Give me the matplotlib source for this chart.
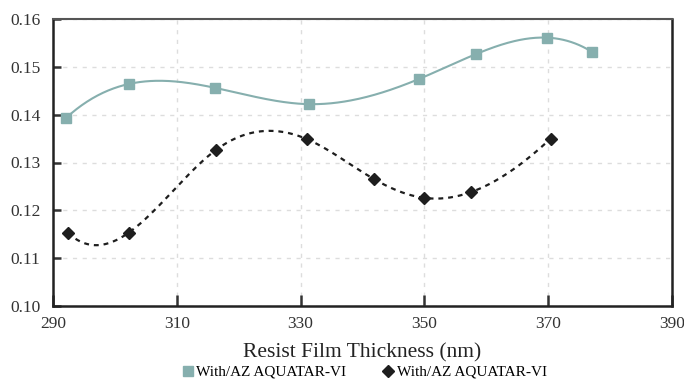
import numpy as np
import matplotlib
matplotlib.use("Agg")
import matplotlib.pyplot as plt
from matplotlib.lines import Line2D

# Resist film thickness (nm) and measured values
thick_with = [292.1, 302.2, 316.2, 331.3, 349.2, 358.4, 369.8, 377.1]
vals_with = [0.1393, 0.1464, 0.1456, 0.1422, 0.1475, 0.1527, 0.1561, 0.1531]

thick_other = [292.4, 302.2, 316.3, 331.0, 341.9, 350.0, 357.5, 370.4]
vals_other = [0.1153, 0.1153, 0.1326, 0.1349, 0.1265, 0.1226, 0.1238, 0.1350]

label_a = "With/AZ AQUATAR-VI"
label_b = "With/AZ AQUATAR-VI"

x_ticks = [290, 310, 330, 350, 370, 390]
y_ticks = [0.10, 0.11, 0.12, 0.13, 0.14, 0.15, 0.16]

TEAL = "#86AFAE"
DARK = "#1E1E1E"


def smooth_curve(x, y, n=400):
    """Cubic spline with not-a-knot end conditions."""
    x = np.asarray(x, float)
    y = np.asarray(y, float)
    k = len(x)
    h = np.diff(x)
    A = np.zeros((k, k))
    r = np.zeros(k)
    A[0, 0], A[0, 1], A[0, 2] = h[1], -(h[0] + h[1]), h[0]
    A[-1, -3], A[-1, -2], A[-1, -1] = h[-1], -(h[-2] + h[-1]), h[-2]
    for i in range(1, k - 1):
        A[i, i - 1] = h[i - 1]
        A[i, i] = 2 * (h[i - 1] + h[i])
        A[i, i + 1] = h[i]
        r[i] = 6 * ((y[i + 1] - y[i]) / h[i] - (y[i] - y[i - 1]) / h[i - 1])
    m = np.linalg.solve(A, r)
    xs = np.linspace(x[0], x[-1], n)
    idx = np.clip(np.searchsorted(x, xs) - 1, 0, k - 2)
    x0, x1 = x[idx], x[idx + 1]
    hh = x1 - x0
    a = (x1 - xs) / hh
    b = (xs - x0) / hh
    ys = (a * y[idx] + b * y[idx + 1]
          + ((a ** 3 - a) * m[idx] + (b ** 3 - b) * m[idx + 1]) * hh ** 2 / 6)
    return xs, ys


plt.rcParams["font.family"] = ["Liberation Serif", "DejaVu Serif"]

fig = plt.figure(figsize=(6.84, 3.80), dpi=100)
ax = fig.add_axes([53 / 684, 1 - 306 / 380, 619 / 684, 287 / 380])

xs, ys = smooth_curve(thick_with, vals_with)
ax.plot(xs, ys, color=TEAL, lw=1.5, zorder=3)
ax.plot(thick_with, vals_with, ls="none", marker="s", ms=7.5,
        color=TEAL, zorder=4)

xs, ys = smooth_curve(thick_other, vals_other)
ax.plot(xs, ys, color=DARK, lw=1.6, ls=(0, (2.2, 2.2)), zorder=3)
ax.plot(thick_other, vals_other, ls="none", marker="D", ms=6.5,
        color=DARK, zorder=4)

ax.set_xlim(290, 390)
ax.set_ylim(0.10, 0.16)
ax.set_xticks(x_ticks)
ax.set_yticks(y_ticks)
ax.set_xticklabels([str(t) for t in x_ticks])
ax.set_yticklabels([f"{t:.2f}" for t in y_ticks])
ax.tick_params(axis="both", direction="in", width=1.8,
               labelsize=12.5, colors="#333333", labelcolor="#333333")
ax.tick_params(axis="x", pad=7, length=8)
ax.tick_params(axis="y", pad=9, length=6)

ax.grid(True, color="#DDDDDD", lw=1.0, ls=(0, (3, 4)))
ax.set_axisbelow(True)
for side in ["left", "bottom", "right"]:
    ax.spines[side].set_linewidth(1.8)
    ax.spines[side].set_color("#222222")
ax.spines["top"].set_linewidth(1.5)
ax.spines["top"].set_color("#555555")

ax.set_xlabel("Resist Film Thickness (nm)", fontsize=15.5, color="#222222",
              labelpad=8)

handles = [
    Line2D([], [], ls="none", marker="s", ms=7.5, color=TEAL),
    Line2D([], [], ls="none", marker="D", ms=6, color=DARK),
]
fig.legend(handles, [label_a, label_b], loc="center",
           bbox_to_anchor=(363 / 684, 1 - 372 / 380), ncol=2,
           frameon=False, fontsize=11, handletextpad=0.0,
           columnspacing=2.2, handlelength=1.1, borderaxespad=0,
           borderpad=0.1)

fig.savefig("out.png", dpi=100, facecolor="white")
